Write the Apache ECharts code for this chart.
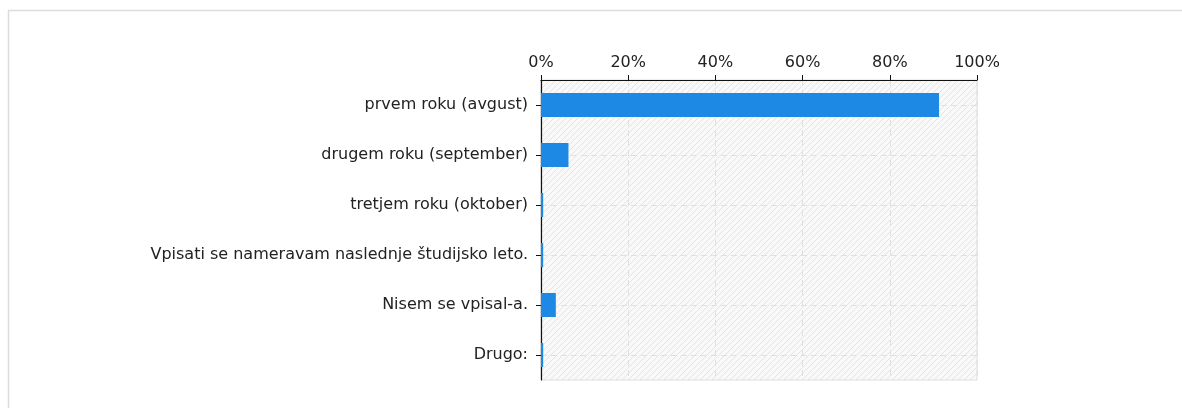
<!DOCTYPE html>
<html>
<head>
<meta charset="utf-8">
<script src="https://cdn.jsdelivr.net/npm/echarts@6/dist/echarts.min.js"></script>
<style>
  html, body { margin: 0; padding: 0; background: #fff; }
  #chart { width: 1182px; height: 408px; }
</style>
</head>
<body>
<div id="chart"></div>
<script>
// odgovori (kategorije) in deleži v %
var categories = [
    'prvem roku (avgust)',
    'drugem roku (september)',
    'tretjem roku (oktober)',
    'Vpisati se nameravam naslednje študijsko leto.',
    'Nisem se vpisal-a.',
    'Drugo:'
];
var shares = [91.3, 6.3, 0.5, 0.5, 3.4, 0.5];
var xTicks = [0, 20, 40, 60, 80, 100];

// pomožna os za vodoravne črte (sredine kategorij)
var helperSlots = [];
for (var i = 0; i <= categories.length * 2; i++) helperSlots.push('');

// črtast vzorec ozadja
function makeHatch() {
    var s = 6;
    var c = document.createElement('canvas');
    c.width = s; c.height = s;
    var ctx = c.getContext('2d');
    ctx.fillStyle = '#f9f9f9';
    ctx.fillRect(0, 0, s, s);
    ctx.strokeStyle = '#e4e4e4';
    ctx.lineWidth = 1;
    ctx.beginPath();
    ctx.moveTo(-1, s + 1); ctx.lineTo(s + 1, -1);
    ctx.moveTo(-1, 1); ctx.lineTo(1, -1);
    ctx.moveTo(s - 1, s + 1); ctx.lineTo(s + 1, s - 1);
    ctx.stroke();
    return c;
}

var chart = echarts.init(document.getElementById('chart'));
var font = 'DejaVu Sans';

var option = {
    animation: false,
    backgroundColor: '#fff',
    graphic: [{
        type: 'rect',
        shape: { x: 8.5, y: 10.5, width: 1300, height: 600 },
        style: { fill: 'none', stroke: '#dcdcdc', lineWidth: 1.5 },
        silent: true
    }],
    grid: {
        left: 541, top: 80, right: 205, bottom: 28,
        show: true,
        backgroundColor: { image: makeHatch(), repeat: 'repeat' },
        borderColor: '#dddddd',
        borderWidth: 1
    },
    xAxis: {
        type: 'value',
        position: 'top',
        min: 0,
        max: 100,
        interval: 20,
        axisLine: { show: true, lineStyle: { color: '#111', width: 1.2 } },
        axisTick: { show: true, length: 5, lineStyle: { color: '#111' } },
        axisLabel: {
            formatter: '{value}%',
            color: '#222',
            fontFamily: font,
            fontSize: 16,
            margin: 9
        },
        splitLine: { show: true, lineStyle: { color: '#e0e0e0', type: [6, 4] } }
    },
    yAxis: [{
        type: 'category',
        data: categories,
        inverse: true,
        axisLine: { show: true, lineStyle: { color: '#111', width: 1.2 } },
        axisTick: { show: true, alignWithLabel: true, length: 5, lineStyle: { color: '#111' } },
        axisLabel: {
            color: '#222',
            fontFamily: font,
            fontSize: 16,
            margin: 13
        },
        splitLine: { show: false }
    }, {
        type: 'category',
        data: helperSlots,
        boundaryGap: false,
        position: 'left',
        axisLine: { show: false },
        axisTick: { show: false },
        axisLabel: { show: false },
        splitLine: {
            show: true,
            interval: function (idx) { return idx % 2 === 1 || idx === helperSlots.length - 1; },
            lineStyle: { color: '#e0e0e0', type: [6, 4] }
        }
    }],
    series: [{
        type: 'bar',
        data: shares,
        barWidth: 24,
        itemStyle: { color: '#1e88e5' },
        z: 3
    }]
};
chart.setOption(option);
</script>
</body>
</html>
